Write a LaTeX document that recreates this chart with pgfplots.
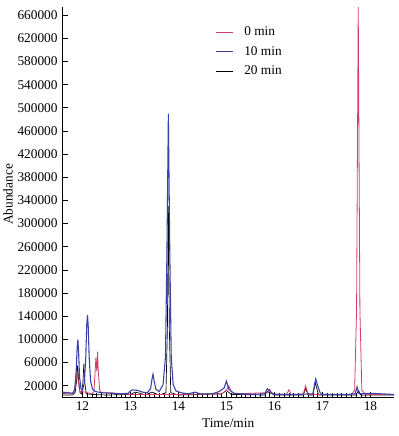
\documentclass[border=0pt]{standalone}
\usepackage{fontspec}
\setmainfont{Liberation Serif}
\usepackage{pgfplots}
\pgfplotsset{compat=1.18}
\definecolor{cRed}{RGB}{214,60,100}
\definecolor{cBlue}{RGB}{55,65,170}
\begin{document}
\begin{tikzpicture}
\path[use as bounding box] (-46.7pt,-29pt) rectangle (252.5pt,298pt);
\begin{axis}[
  scale only axis, width=248.8pt, height=292.7pt,
  anchor=south west, at={(0,0)},
  xmin=11.58, xmax=18.49, ymin=0, ymax=674000,
  axis lines=left, axis line style={-, line width=0.6pt},
  xtick={12,13,14,15,16,17,18},
  minor x tick num=9,
  ytick={20000,60000,...,660000},
  scaled y ticks=false,
  /pgf/number format/assume math mode=true,
  /pgf/number format/set thousands separator={},
  /pgf/number format/fixed,
  tick align=inside,
  major tick length=4pt, minor tick length=3pt,
  tick style={line width=0.5pt, black},
  ticklabel style={font=\fontsize{10}{12}\selectfont},
  xlabel={Time/min}, ylabel={Abundance},
  label style={font=\fontsize{10}{12}\selectfont},
  every axis x label/.style={at={(axis description cs:0.5,0)}, anchor=center, yshift=-19.3pt},
  every axis y label/.style={at={(axis description cs:0,0.52)}, anchor=center, rotate=90, yshift=40.7pt},
  legend style={at={(axis description cs:0.457,0.96)}, anchor=north west, draw=none, fill=none,
    font=\fontsize{10}{12}\selectfont, row sep=2.5pt, inner sep=1pt},
  legend cell align=left,
  legend image code/.code={\draw[#1] (0cm,0cm) -- (0.45cm,0cm);},
  /tikz/every odd column/.append style={column sep=6pt},
]
\addlegendimage{cRed, line width=0.8pt}
\addlegendentry{0 min}
\addlegendimage{cBlue, line width=0.8pt}
\addlegendentry{10 min}
\addlegendimage{black, line width=0.8pt}
\addlegendentry{20 min}

% 20 min
\addplot[black, line width=0.5pt, forget plot] coordinates {
(11.58,4000) (11.8,4000) (11.85,9000) (11.88,30000) (11.9,55000) (11.92,30000) (11.95,8000) (11.98,6000)
(12.01,25000) (12.03,58000) (12.05,25000) (12.08,6000) (12.2,5000) (12.5,4000) (13.0,5000) (13.1,9000)
(13.2,7000) (13.3,4000) (13.45,9000) (13.6,4000) (13.74,8000) (13.77,120000) (13.79,330000) (13.81,120000)
(13.84,8000) (14.0,4000) (14.9,6000) (15.0,12000) (15.1,5000) (15.8,4000)
(15.85,10000) (16.0,4000) (16.6,4000) (16.65,15000) (16.7,4000) (16.8,4000)
(16.85,25000) (16.92,4000) (17.7,4000) (17.75,12000) (17.8,4000) (18.49,4000)
};
% 0 min
\addplot[cRed, line width=0.6pt, forget plot] coordinates {
(11.58,7000) (11.7,6000) (11.82,8000) (11.86,25000) (11.885,45000) (11.91,30000) (11.94,12000) (11.97,8000)
(12.0,10000) (12.2,6000) (12.24,10000) (12.265,45000) (12.28,68000) (12.30,45000) (12.315,79000) (12.33,45000)
(12.36,12000) (12.4,8000) (12.6,8000) (12.8,6000) (13.0,5000) (13.5,5000)
(14.0,5000) (14.9,6000) (15.0,12000) (15.05,20000) (15.1,10000) (15.18,6000) (15.85,8000) (15.9,14000)
(15.95,6000) (16.25,5000) (16.3,13000) (16.35,5000) (16.6,6000) (16.65,20000)
(16.7,5000) (17.6,5000) (17.67,12000) (17.71,150000) (17.745,674000) (17.78,150000) (17.82,12000) (17.9,5000)
(18.49,5000)
};
% 10 min
\addplot[cBlue, line width=0.8pt, forget plot] coordinates {
(11.58,9000) (11.7,8000) (11.8,7000) (11.84,14000) (11.87,45000) (11.89,85000) (11.905,100000)
(11.92,80000) (11.94,35000) (11.97,15000) (12.0,12000) (12.04,25000) (12.07,70000) (12.09,125000) (12.105,142000)
(12.12,125000) (12.14,70000) (12.17,28000) (12.21,14000) (12.27,10000) (12.4,8000) (12.6,7000) (12.8,6000)
(12.95,7000) (13.0,11000) (13.05,13000) (13.15,12000) (13.25,9000) (13.35,8000) (13.42,15000) (13.45,32000)
(13.47,40000) (13.49,30000) (13.53,14000) (13.6,10000) (13.68,22000) (13.73,70000) (13.76,250000) (13.79,490000)
(13.82,250000) (13.85,70000) (13.89,22000) (13.95,11000) (14.05,8000) (14.2,6000) (14.35,9000)
(14.45,6000) (14.7,6000) (14.85,10000) (14.95,16000) (15.0,28000) (15.05,14000)
(15.15,7000) (15.5,5000) (15.8,6000) (15.85,15000) (15.92,9000) (16.0,5000)
(16.5,5000) (16.8,6000) (16.83,20000) (16.86,32000) (16.9,20000) (16.95,8000) (17.0,5000)
(17.5,5000) (17.68,6000) (17.72,18000) (17.76,6000) (18.0,7000) (18.49,5000)
};
\end{axis}
\end{tikzpicture}
\end{document}
